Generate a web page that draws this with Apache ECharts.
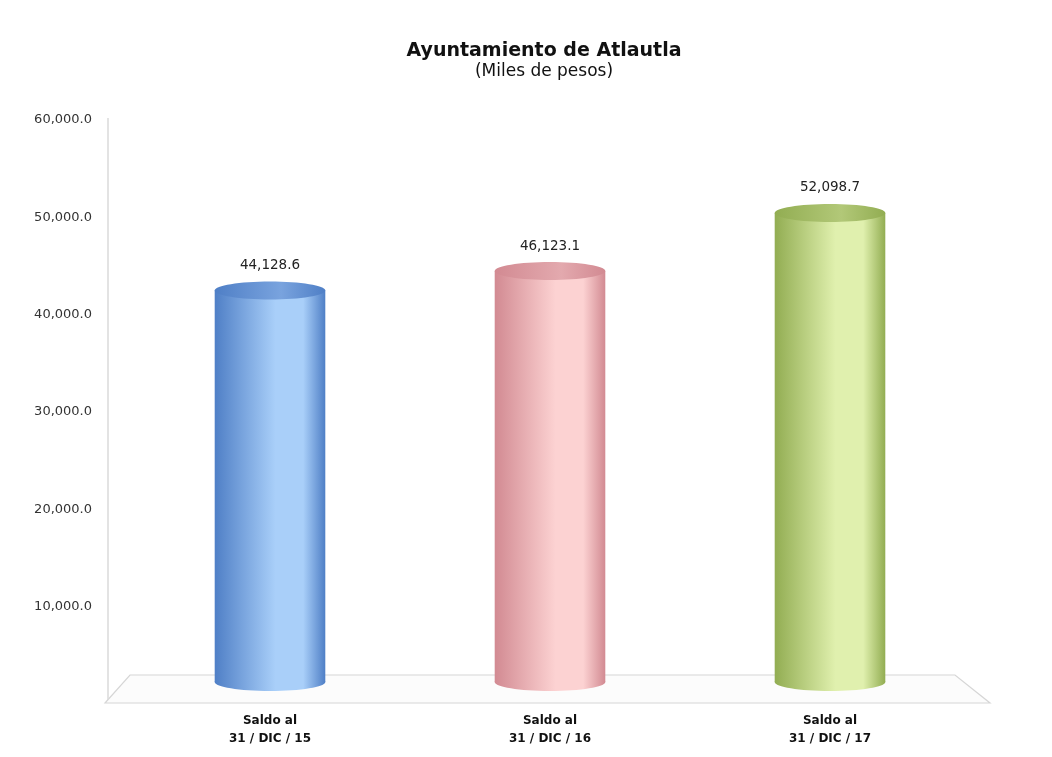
<!DOCTYPE html>
<html><head><meta charset="utf-8">
<script src="https://cdn.jsdelivr.net/npm/echarts@6/dist/echarts.min.js"></script>
<style>html,body{margin:0;padding:0;background:#fff}#c{width:1052px;height:757px}</style>
</head><body><div id="c"></div>
<script>
const categories = ['Saldo al\n31 / DIC / 15', 'Saldo al\n31 / DIC / 16', 'Saldo al\n31 / DIC / 17'];
const values = [44128.6, 46123.1, 52098.7];
const yTicks = [0, 10000, 20000, 30000, 40000, 50000, 60000];
const palette = [
  {edge:'#4f7fc6', mid:'#a9cff9', top:'#79a3de'},
  {edge:'#d28a92', mid:'#fcd2d2', top:'#e3a9ae'},
  {edge:'#92ad52', mid:'#e0f0ae', top:'#b2c878'}
];
function fmt(v){return v.toLocaleString('en-US',{minimumFractionDigits:1,maximumFractionDigits:1});}

const chart = echarts.init(document.getElementById('c'));
chart.setOption({
  backgroundColor:'#fff',
  title:{text:'Ayuntamiento de Atlautla', subtext:'(Miles de pesos)', left:539, textAlign:'center', top:37,
    itemGap:2,
    textStyle:{fontFamily:'DejaVu Sans', fontWeight:'bold', fontSize:19, color:'#111'},
    subtextStyle:{fontFamily:'DejaVu Sans', fontSize:17, color:'#111'}},
  graphic:[
    {type:'polygon', z:0, shape:{points:[[130,675],[955,675],[990,703],[105,703]]},
     style:{fill:'#fcfcfc', stroke:'#d6d6d6', lineWidth:1.2}},
    {type:'line', z:0, shape:{x1:108,y1:118,x2:108,y2:700}, style:{stroke:'#dadada', lineWidth:1.5}}
  ],
  grid:{left:130, right:82, top:120, bottom:53},
  xAxis:{type:'category', data:categories, axisLine:{show:false}, axisTick:{show:false},
    axisLabel:{margin:8, fontFamily:'DejaVu Sans', fontWeight:'bold', fontSize:12, color:'#111', lineHeight:18}},
  yAxis:{type:'value', min:yTicks[0], max:yTicks[yTicks.length-1], interval:10000,
    axisLine:{show:false}, axisTick:{show:false}, splitLine:{show:false},
    axisLabel:{margin:38, fontFamily:'DejaVu Sans', fontSize:13, color:'#333',
      formatter:function(v){return v===0?'':fmt(v);}}},
  series:[{
    type:'custom', data:values.map((v,i)=>[i,v]),
    renderItem:function(params, api){
      const i=api.value(0), v=api.value(1);
      const top=api.coord([i,v]), base=api.coord([i,0]);
      const w=api.size([1,0])[0]*0.395;
      const cx=top[0], x0=cx-w/2;
      const ry=9;
      const yt=top[1]+16, yb=base[1]-22;
      const p=palette[i];
      const grad=new echarts.graphic.LinearGradient(0,0,1,0,[
        {offset:0,color:p.edge},{offset:0.55,color:p.mid},{offset:0.8,color:p.mid},{offset:1,color:p.edge}]);
      const gradTop=new echarts.graphic.LinearGradient(0,0,1,0,[
        {offset:0,color:p.edge},{offset:0.6,color:p.top},{offset:1,color:p.edge}]);
      return {type:'group', children:[
        {type:'ellipse', shape:{cx:cx, cy:yb, rx:w/2, ry:ry}, style:{fill:grad}},
        {type:'rect', shape:{x:x0, y:yt, width:w, height:yb-yt}, style:{fill:grad}},
        {type:'ellipse', shape:{cx:cx, cy:yt, rx:w/2, ry:ry}, style:{fill:gradTop}},
        {type:'text', style:{x:cx, y:top[1]-9, text:fmt(v), align:'center', verticalAlign:'middle',
          fontFamily:'DejaVu Sans', fontSize:13.5, fill:'#222'}}
      ]};
    }
  }]
});
</script></body></html>
